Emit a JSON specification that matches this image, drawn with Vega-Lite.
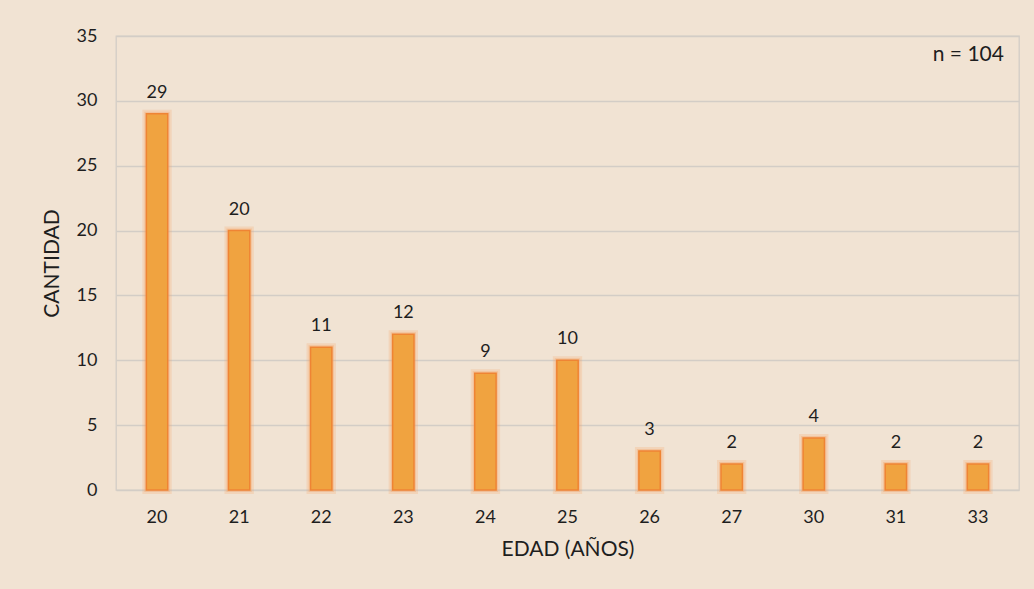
{
  "$schema": "https://vega.github.io/schema/vega-lite/v6.json",
  "autosize": {"type": "none"},
  "width": 903,
  "height": 454,
  "padding": {"left": 116, "top": 36, "right": 15, "bottom": 99},
  "background": "#f1e3d3",
  "config": {
    "font": "Lato",
    "view": {"stroke": "#d3cdc6", "strokeWidth": 1.3},
    "axis": {
      "labelFont": "Lato",
      "titleFont": "Lato",
      "labelColor": "#1e1e1e",
      "titleColor": "#1e1e1e",
      "labelFontSize": 18,
      "titleFontSize": 21,
      "titleFontWeight": "normal",
      "ticks": false,
      "domain": false,
      "gridColor": "#d3cdc6",
      "gridWidth": 1.3
    }
  },
  "data": {
    "values": [
      {"edad": "20", "cantidad": 29},
      {"edad": "21", "cantidad": 20},
      {"edad": "22", "cantidad": 11},
      {"edad": "23", "cantidad": 12},
      {"edad": "24", "cantidad": 9},
      {"edad": "25", "cantidad": 10},
      {"edad": "26", "cantidad": 3},
      {"edad": "27", "cantidad": 2},
      {"edad": "30", "cantidad": 4},
      {"edad": "31", "cantidad": 2},
      {"edad": "33", "cantidad": 2}
    ]
  },
  "encoding": {
    "x": {
      "field": "edad",
      "type": "ordinal",
      "sort": null,
      "title": "EDAD (AÑOS)",
      "scale": {"paddingInner": 0.74, "paddingOuter": 0.37},
      "axis": {"labelAngle": 0, "labelPadding": 18, "titlePadding": 12, "grid": false}
    },
    "y": {
      "field": "cantidad",
      "type": "quantitative",
      "title": "CANTIDAD",
      "scale": {"domain": [0, 35], "nice": false},
      "axis": {"values": [0, 5, 10, 15, 20, 25, 30, 35], "labelPadding": 19, "titlePadding": 14, "grid": true}
    }
  },
  "layer": [
    {
      "mark": {"type": "bar", "fill": "#f0a340", "stroke": "#f5a060", "strokeWidth": 8, "strokeOpacity": 0.22}
    },
    {
      "mark": {"type": "bar", "fill": "#f0a340", "stroke": "#f5a060", "strokeWidth": 4, "strokeOpacity": 0.35}
    },
    {
      "mark": {"type": "bar", "fill": "#f0a340", "stroke": "#ef8434", "strokeWidth": 1.5}
    },
    {
      "mark": {"type": "text", "baseline": "bottom", "dy": -12, "fontSize": 18, "color": "#1e1e1e", "font": "Lato"},
      "encoding": {"text": {"field": "cantidad", "type": "quantitative"}}
    },
    {
      "data": {"values": [{"edad": "33", "cantidad": 33.5, "nota": "n = 104"}]},
      "mark": {"type": "text", "align": "right", "baseline": "middle", "dx": 26, "fontSize": 21, "color": "#1e1e1e", "font": "Lato"},
      "encoding": {"text": {"field": "nota", "type": "nominal"}}
    }
  ]
}
